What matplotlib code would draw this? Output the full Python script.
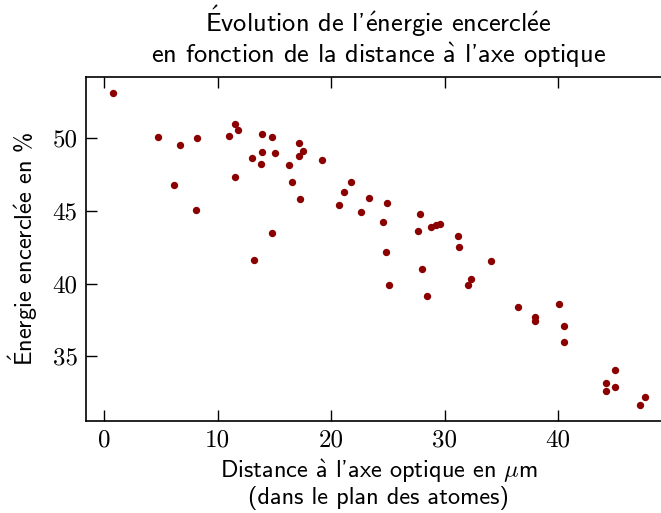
import matplotlib
matplotlib.use("Agg")
import matplotlib.pyplot as plt

plt.rcParams["mathtext.fontset"] = "cm"

# Distance to the optical axis (µm) and encircled energy (%) for each spot
distance = [0.75, 4.77, 6.66, 8.16, 6.2, 8.1, 11.03, 11.56, 11.79, 13.95,
            14.82, 13.07, 13.9, 15.02, 13.86, 11.51, 14.83, 13.17, 17.16, 17.55,
            17.16, 16.26, 16.55, 17.25, 19.19, 21.78, 21.1, 20.72, 23.37, 24.89,
            22.6, 24.54, 27.82, 27.62, 28.83, 29.2, 29.56, 31.15, 31.26, 24.82,
            34.11, 28.05, 32.32, 32.02, 25.07, 28.46, 36.43, 37.96, 37.96, 40.07,
            40.55, 40.49, 45.04, 44.21, 45.04, 44.21, 47.65, 47.21]
energie = [53.13, 50.08, 49.5, 50.0, 46.77, 45.06, 50.14, 50.94, 50.57, 50.27,
           50.07, 48.66, 49.02, 48.96, 48.24, 47.32, 43.48, 41.62, 49.65, 49.15,
           48.76, 48.14, 46.96, 45.85, 48.53, 46.96, 46.32, 45.4, 45.9, 45.51,
           44.92, 44.25, 44.78, 43.65, 43.9, 44.02, 44.11, 43.28, 42.54, 42.2,
           41.54, 41.02, 40.33, 39.88, 39.9, 39.17, 38.38, 37.73, 37.41, 38.6,
           37.11, 35.96, 34.07, 33.15, 32.9, 32.62, 32.23, 31.63]

x_ticks = [0, 10, 20, 30, 40]
y_ticks = [35, 40, 45, 50]

# accented letters go through mathtext so they stay in Computer Modern Sans
E_AIGU = r"$\mathsf{\acute{E}}$"
e_aigu = r"$\mathsf{\acute{e}}$"
a_grave = r"$\mathsf{\grave{a}}$"
SANS = ["cmss10", "DejaVu Sans"]

titre = (E_AIGU + "volution de l'" + e_aigu + "nergie encercl" + e_aigu + "e\n"
         "en fonction de la distance " + a_grave + " l'axe optique")
label_x = ("Distance " + a_grave + r" l'axe optique en $\mu$m" + "\n"
           "(dans le plan des atomes)")
label_y = E_AIGU + "nergie encercl" + e_aigu + "e en %"

fig = plt.figure(figsize=(6.61, 5.13), dpi=100)
ax = fig.add_axes([0.130, 0.1793, 0.886, 0.6706])

ax.scatter(distance, energie, s=28, color="darkred", linewidths=0, zorder=3)

ax.set_xticks(x_ticks)
ax.set_yticks(y_ticks)
ax.tick_params(direction="in", length=8, width=1, top=True, right=False, pad=6)
for lab in ax.get_xticklabels() + ax.get_yticklabels():
    lab.set_family("cmr10")
    lab.set_fontsize(18)
for sp in ax.spines.values():
    sp.set_linewidth(1.2)

ax.set_title(titre, family=SANS, fontsize=19, pad=10, linespacing=1.1)
ax.set_xlabel(label_x, family=SANS, fontsize=17.5, labelpad=4, linespacing=1.08)
ax.set_ylabel(label_y, family=SANS, fontsize=17.5, labelpad=9)

fig.savefig("out.png", dpi=100)
